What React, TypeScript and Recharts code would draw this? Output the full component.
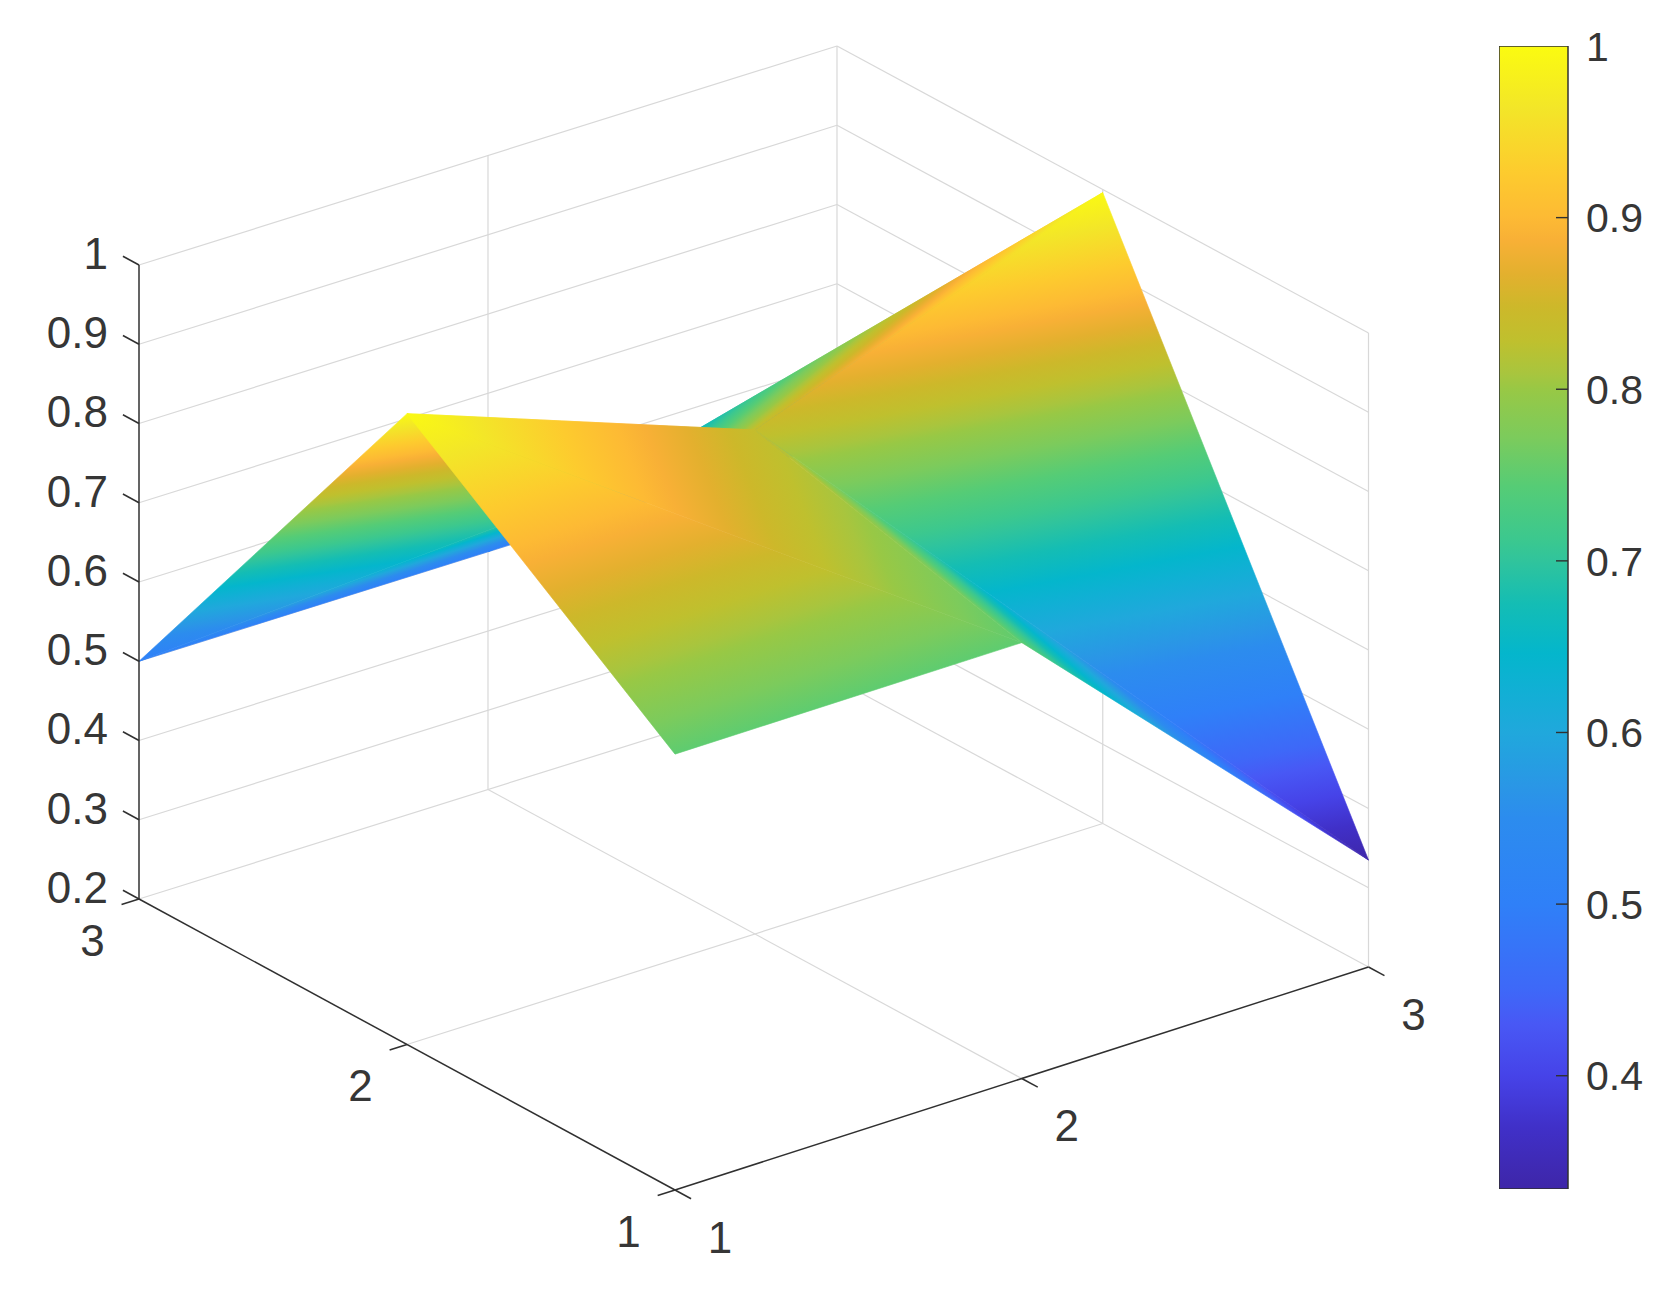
import React from 'react';
import { ScatterChart, Scatter, XAxis, YAxis, BarChart, Bar } from 'recharts';

const xGrid = [1, 2, 3];
const yGrid = [1, 2, 3];
// surface heights, one row per y value, one column per x value
const zAtY1 = [0.75, 0.75, 0.335];
const zAtY2 = [0.996, 0.836, 0.996];
const zAtY3 = [0.5, 0.5, 0.5];
const zRows = [zAtY1, zAtY2, zAtY3];

const zTicks = [0.2, 0.3, 0.4, 0.5, 0.6, 0.7, 0.8, 0.9, 1];
const zTickLabels = ['0.2', '0.3', '0.4', '0.5', '0.6', '0.7', '0.8', '0.9', '1'];
const barTicks = [0.4, 0.5, 0.6, 0.7, 0.8, 0.9, 1];
const barMin = 0.334;
const barMax = 1;

// colour scale
const cmapZ = [
  0.334, 0.37, 0.4, 0.43, 0.45, 0.5, 0.55, 0.568, 0.6, 0.626, 0.646, 0.675, 0.7, 0.713, 0.743, 0.772, 0.8,
  0.809, 0.828, 0.848, 0.867, 0.887, 0.9, 0.926, 0.964, 1,
];
const cmapHex = [
  '#3e26a8', '#4030c8', '#4643e8', '#4858f5', '#3e68f8', '#2f80f8', '#2c8cee', '#2a96e6', '#20a8dc', '#10b0d4',
  '#04b6cc', '#14bdb4', '#30c49c', '#3cc88e', '#55cc76', '#7ccb5c', '#98c845', '#a8c53e', '#bfc02e', '#cdb82a',
  '#e3b02e', '#f8b036', '#fdba34', '#fdcb2e', '#f3e628', '#fbfb10',
];

const rgbOf = (h: string) => [1, 3, 5].map((k) => parseInt(h.slice(k, k + 2), 16));

const colorAt = (zv: number) => {
  const z = Math.max(barMin, Math.min(barMax, zv));
  let i = 0;
  while (i < cmapZ.length - 2 && z > cmapZ[i + 1]) i++;
  const f = (z - cmapZ[i]) / (cmapZ[i + 1] - cmapZ[i]);
  const a = rgbOf(cmapHex[i]);
  const b = rgbOf(cmapHex[i + 1]);
  const c = a.map((v, k) => Math.round(v + (b[k] - v) * f));
  return `rgb(${c[0]},${c[1]},${c[2]})`;
};

const stopsBetween = (z0: number, z1: number) => {
  const zs = [z0];
  cmapZ.forEach((z) => {
    if (z > z0 && z < z1) zs.push(z);
  });
  zs.push(z1);
  return zs;
};

// view of the 3-D box onto the plane of the page (slight perspective on the floor)
const project = (x: number, y: number, z: number) => {
  const s = (x - 1) / 2;
  const t = (y - 1) / 2;
  return {
    u: 693.5 * s - 536 * t + 4.5 * s * t,
    v: 223 * s + 291 * t - 4 * s * t + 792.5 * (z - 0.2),
    z,
  };
};

type P3 = [number, number, number];

const GRID = '#d8d8d8';
const AXIS = '#303030';
const TEXT = '#363636';
const FONT = '"Liberation Sans", Arial, sans-serif';
const FS = 44;
const BAR_FS = 41;

const gridSegs: P3[][] = [];
zTicks.forEach((z) => {
  gridSegs.push([[1, 3, z], [3, 3, z]]);
  gridSegs.push([[3, 3, z], [3, 1, z]]);
});
gridSegs.push([[2, 3, 0.2], [2, 3, 1]]);
gridSegs.push([[3, 3, 0.2], [3, 3, 1]]);
gridSegs.push([[3, 2, 0.2], [3, 2, 1]]);
gridSegs.push([[3, 1, 0.2], [3, 1, 1]]);
gridSegs.push([[2, 1, 0.2], [2, 3, 0.2]]);
gridSegs.push([[1, 2, 0.2], [3, 2, 0.2]]);

const axisSegs: P3[][] = [
  [[1, 3, 0.2], [1, 3, 1]],
  [[1, 1, 0.2], [3, 1, 0.2]],
  [[1, 1, 0.2], [1, 3, 0.2]],
];
zTicks.forEach((z) => axisSegs.push([[1, 3, z], [1, 3.06, z]]));
xGrid.forEach((x) => axisSegs.push([[x, 1, 0.2], [x, 0.94, 0.2]]));
yGrid.forEach((y) => axisSegs.push([[1, y, 0.2], [0.95, y, 0.2]]));

const pt = (i: number, j: number) => project(xGrid[i], yGrid[j], zRows[j][i]);

const triangles: ReturnType<typeof project>[][] = [];
[[1, 1], [0, 1], [1, 0], [0, 0]].forEach(([i, j]) => {
  triangles.push([pt(i + 1, j + 1), pt(i + 1, j), pt(i, j + 1)]);
  triangles.push([pt(i, j), pt(i + 1, j), pt(i, j + 1)]);
});

const xLabels = xGrid.map((x) => ({ ...project(x, 1, 0.2), label: String(x), dx: 45, dy: 47, anchor: 'middle' }));
const yLabels = yGrid.map((y) => ({ ...project(1, y, 0.2), label: String(y), dx: -46.5, dy: 41, anchor: 'middle' }));
const zLabels = zTicks.map((z, k) => ({ ...project(1, 3, z), label: zTickLabels[k], dx: -31, dy: -12, anchor: 'end' }));
const labels = [...xLabels, ...yLabels, ...zLabels];

const noDot = () => <g />;

const triangleLine = (tri: { z: number }[], id: string) => (props: any) => {
  const pts: { x: number; y: number }[] = props.points;
  const zs = tri.map((t) => t.z);
  const [a, b, c] = pts;
  const det = (b.x - a.x) * (c.y - a.y) - (c.x - a.x) * (b.y - a.y);
  const gx = ((zs[1] - zs[0]) * (c.y - a.y) - (zs[2] - zs[0]) * (b.y - a.y)) / det;
  const gy = ((zs[2] - zs[0]) * (b.x - a.x) - (zs[1] - zs[0]) * (c.x - a.x)) / det;
  const zMin = Math.min(...zs);
  const zMax = Math.max(...zs);
  const s = pts[zs.indexOf(zMin)];
  const g2 = gx * gx + gy * gy;
  const k = (zMax - zMin) / g2;
  const stops = stopsBetween(zMin, zMax);
  const poly = pts.map((p) => `${p.x},${p.y}`).join(' ');
  return (
    <g>
      <defs>
        <linearGradient id={id} gradientUnits="userSpaceOnUse" x1={s.x} y1={s.y} x2={s.x + gx * k} y2={s.y + gy * k}>
          {stops.map((z, n) => (
            <stop key={n} offset={(z - zMin) / (zMax - zMin)} stopColor={colorAt(z)} />
          ))}
        </linearGradient>
      </defs>
      <polygon points={poly} fill={`url(#${id})`} stroke={`url(#${id})`} strokeWidth={0.6} strokeLinejoin="round" />
    </g>
  );
};

const labelShape = (props: any) => {
  const { cx, cy, payload } = props;
  return (
    <text
      x={cx + payload.dx}
      y={cy + payload.dy}
      dy="0.358em"
      textAnchor={payload.anchor}
      fontFamily={FONT}
      fontSize={FS}
      fill={TEXT}
    >
      {payload.label}
    </text>
  );
};

const barData = [{ name: 'colorbar', range: [barMin, barMax] }];

const BarTick = (props: any) => {
  const { x, y, payload } = props;
  const v = payload.value;
  return (
    <g>
      {v < 1 ? <line x1={x - 12} x2={x} y1={y} y2={y} stroke={AXIS} strokeWidth={1.4} /> : null}
      <text x={x + 18} y={y} dy="0.358em" textAnchor="start" fontFamily={FONT} fontSize={BAR_FS} fill={TEXT}>
        {String(v)}
      </text>
    </g>
  );
};

export default function App() {
  return (
    <div style={{ position: 'absolute', left: 0, top: 0, width: 1672, height: 1292, background: '#fff' }}>
      <ScatterChart width={1672} height={1292} margin={{ top: 0, right: 0, bottom: 0, left: 0 }}>
        <XAxis type="number" dataKey="u" domain={[-675, 997]} hide />
        <YAxis type="number" dataKey="v" domain={[-102, 1190]} hide />
        {gridSegs.map((s, n) => (
          <Scatter
            key={`g${n}`}
            data={s.map((p) => project(p[0], p[1], p[2]))}
            line={{ stroke: GRID, strokeWidth: 1.2 }}
            shape={noDot}
            isAnimationActive={false}
          />
        ))}
        {triangles.map((t, n) => (
          <Scatter
            key={`t${n}`}
            data={t}
            line={triangleLine(t, `tri${n}`)}
            shape={noDot}
            isAnimationActive={false}
          />
        ))}
        {axisSegs.map((s, n) => (
          <Scatter
            key={`a${n}`}
            data={s.map((p) => project(p[0], p[1], p[2]))}
            line={{ stroke: AXIS, strokeWidth: 1.5 }}
            shape={noDot}
            isAnimationActive={false}
          />
        ))}
        <Scatter data={labels} shape={labelShape} isAnimationActive={false} />
      </ScatterChart>
      <div style={{ position: 'absolute', left: 1499, top: 16, width: 173, height: 1193 }}>
        <BarChart
          width={173}
          height={1193}
          data={barData}
          barCategoryGap={0}
          margin={{ top: 30, right: 0, bottom: 20, left: 0 }}
        >
          <defs>
            <linearGradient id="cbar" x1="0" y1="1" x2="0" y2="0">
              {cmapZ.map((z, n) => (
                <stop key={n} offset={(z - barMin) / (barMax - barMin)} stopColor={cmapHex[n]} />
              ))}
            </linearGradient>
          </defs>
          <XAxis dataKey="name" hide />
          <YAxis
            orientation="right"
            type="number"
            domain={[barMin, barMax]}
            ticks={barTicks}
            width={104}
            axisLine={false}
            tickLine={false}
            tickSize={0}
            tickMargin={0}
            tick={BarTick}
            interval={0}
            allowDataOverflow
          />
          <Bar dataKey="range" fill="url(#cbar)" stroke={AXIS} strokeWidth={1.5} isAnimationActive={false} />
        </BarChart>
      </div>
    </div>
  );
}
